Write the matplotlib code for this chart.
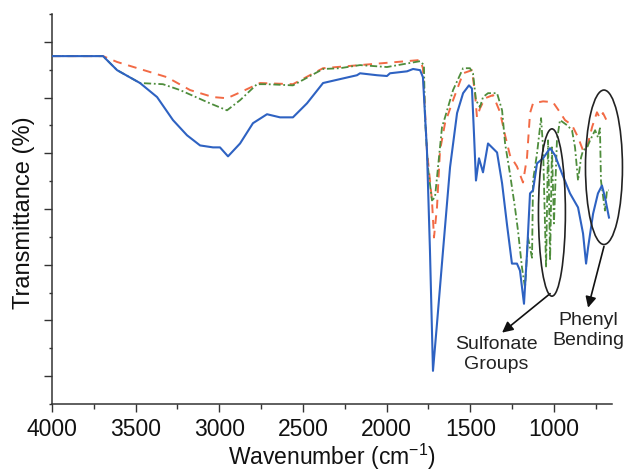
import matplotlib
matplotlib.use("Agg")
import matplotlib.pyplot as plt
from matplotlib.patches import Ellipse
from matplotlib.ticker import MultipleLocator, FixedLocator
import numpy as np

plt.rcParams['font.family'] = ['Liberation Sans', 'DejaVu Sans']

# ---- data (wavenumber in cm^-1, transmittance in arbitrary %) ----
blue_w = [4000, 3695, 3611, 3474, 3372, 3277, 3193, 3115, 3038, 2996, 2948, 2876,
          2799, 2715, 2637, 2560, 2476, 2380, 2279, 2177, 2159, 2057, 1998, 1980,
          1878, 1842, 1800, 1783, 1759, 1741, 1723, 1699, 1663, 1621, 1579, 1543,
          1508, 1490, 1478, 1466, 1448, 1424, 1394, 1340, 1310, 1280, 1251, 1221,
          1203, 1179, 1161, 1143, 1125, 1101, 1065, 1023, 994, 952, 904, 856, 826,
          808, 796, 766, 737, 713, 695, 671]
blue_t = [89.2, 89.2, 85.6, 82.3, 78.7, 72.8, 68.9, 66.3, 65.8, 65.8, 63.5, 66.8,
          72.0, 74.3, 73.5, 73.5, 77.1, 82.3, 83.3, 84.3, 84.8, 84.3, 84.1, 84.8,
          85.3, 85.9, 85.6, 83.8, 65.0, 39.3, 8.5, 20.6, 39.3, 60.7, 74.6, 79.7,
          81.7, 80.9, 69.4, 57.3, 63.0, 59.4, 66.8, 64.5, 56.6, 45.8, 36.0, 36.0,
          34.2, 25.7, 38.6, 54.0, 54.8, 61.7, 63.0, 65.6, 63.8, 59.1, 54.0, 50.4, 43.7,
          36.0, 40.1, 48.8, 54.0, 56.0, 53.0, 47.8]

red_w = [4000, 3695, 3611, 3474, 3313, 3175, 3038, 2954, 2876, 2757, 2560, 2380,
         2159, 1800, 1783, 1759, 1729, 1717, 1699, 1681, 1651, 1603, 1543, 1490,
         1472, 1460, 1442, 1412, 1364, 1322, 1292, 1263, 1221, 1185, 1161, 1143,
         1125, 1065, 1006, 964, 934, 892, 856, 826, 802, 772, 743, 725, 707, 677]
red_t = [89.2, 89.2, 87.7, 85.9, 83.8, 80.5, 78.7, 78.4, 79.9, 82.3, 82.0, 86.1,
         86.9, 88.2, 86.1, 65.0, 52.2, 42.7, 50.4, 65.0, 72.0, 77.9, 84.8, 85.6,
         79.7, 73.5, 75.8, 78.4, 79.2, 74.8, 68.9, 63.8, 60.9, 56.8, 63.2, 74.6,
         77.1, 77.6, 77.4, 74.8, 72.8, 71.5, 68.4, 65.0, 65.8, 71.0, 74.8, 73.3, 74.6, 72.0]

green_w = [4000, 3695, 3611, 3474, 3337, 3235, 3056, 2954, 2876, 2775, 2715, 2560,
           2380, 2279, 2159, 1998, 1800, 1777, 1771, 1753, 1729, 1711, 1693, 1669,
           1651, 1603, 1543, 1502, 1484, 1466, 1442, 1424, 1394, 1340, 1310, 1292,
           1263, 1233, 1215, 1191, 1173, 1155, 1131, 1125, 1101, 1077, 1065, 1047,
           1035, 1023, 1012, 1000, 982, 964, 922, 892, 874, 856, 838, 826, 802, 784,
           754, 737, 725, 719, 695, 683, 671]
green_t = [89.2, 89.2, 85.6, 82.3, 82.0, 80.5, 77.1, 75.3, 77.9, 82.0, 82.0, 81.7,
           85.9, 86.1, 86.9, 86.4, 87.9, 86.9, 73.5, 60.7, 52.2, 53.0, 60.7, 71.0,
           73.5, 80.5, 86.1, 86.1, 84.8, 77.9, 76.1, 78.7, 79.7, 79.7, 75.3, 66.8,
           59.1, 50.4, 44.5, 35.0, 29.8, 42.7, 37.5, 57.3, 64.3, 73.3, 65.8, 35.0,
           67.6, 36.8, 65.8, 46.3, 67.6, 72.8, 71.5, 70.2, 65.8, 57.3, 63.2, 65.0, 65.8, 67.6,
           70.2, 68.4, 70.7, 57.3, 49.6, 54.8, 54.8]

x_ticks = [4000, 3500, 3000, 2500, 2000, 1500, 1000]
x_label = "Wavenumber (cm$^{\\mathregular{-1}}$)"
y_label = "Transmittance (%)"

# ---- figure ----
fig = plt.figure(figsize=(6.24, 4.72), dpi=100)
ax = fig.add_axes([52/624, (472-404)/472, 560/624, 390/472])

ax.plot(blue_w, blue_t, color='#2e62c2', lw=1.5, zorder=3)
ax.plot(red_w, red_t, color='#f26a45', lw=1.4, ls=(0, (4.5, 3.5)), zorder=2)
ax.plot(green_w, green_t, color='#4e8d3c', lw=1.3, ls=(0, (4, 1.5, 1, 1.5)), zorder=2)

ax.set_xlim(4000, 653)
ax.set_ylim(0, 100)
ax.xaxis.set_major_locator(FixedLocator(x_ticks))
ax.xaxis.set_minor_locator(MultipleLocator(250))
step = 100/14
ax.yaxis.set_major_locator(FixedLocator([step*k for k in range(1, 14, 2)]))
ax.yaxis.set_minor_locator(FixedLocator([step*k for k in range(0, 15, 2)]))
ax.set_yticklabels([])

for s in ['top', 'right']:
    ax.spines[s].set_visible(False)
for s in ['left', 'bottom']:
    ax.spines[s].set_linewidth(1.1)
    ax.spines[s].set_color('#333333')

ax.tick_params(axis='x', which='major', length=6, width=1.0, color='#333333',
               labelsize=16.5, pad=4, labelcolor='#111111')
ax.tick_params(axis='x', which='minor', length=3.5, width=1.0, color='#333333')
ax.tick_params(axis='y', which='major', length=6, width=1.0, color='#333333')
ax.tick_params(axis='y', which='minor', length=2.5, width=1.0, color='#333333')

ax.set_xlabel(x_label, fontsize=16.5, color='#111111', labelpad=1)
ax.set_ylabel(y_label, fontsize=17, color='#111111')
ax.yaxis.set_label_coords(-0.03, 0.49)

# ---- annotations ----
ax.add_patch(Ellipse((1012, 49.1), 161, 42.9, fill=False, ec='#222222', lw=1.2,
                     clip_on=False, zorder=4))
ax.add_patch(Ellipse((701, 60.7), 221, 39.6, fill=False, ec='#222222', lw=1.2,
                     clip_on=False, zorder=4))

arrow = dict(arrowstyle='-|>', color='#111111', lw=1.2, mutation_scale=16,
             shrinkA=0, shrinkB=0)
ax.annotate('', xy=(1310, 18.3), xytext=(1023, 28.3), arrowprops=arrow,
            annotation_clip=False)
ax.annotate('', xy=(796, 24.7), xytext=(701, 40.4), arrowprops=arrow,
            annotation_clip=False)

ax.text(1346, 12.7, "Sulfonate\nGroups", ha='center', va='center', fontsize=14,
        color='#222222', linespacing=1.2, clip_on=False)
ax.text(795, 18.8, "Phenyl\nBending", ha='center', va='center', fontsize=14,
        color='#222222', linespacing=1.2, clip_on=False)

fig.savefig("out.png", dpi=100)
